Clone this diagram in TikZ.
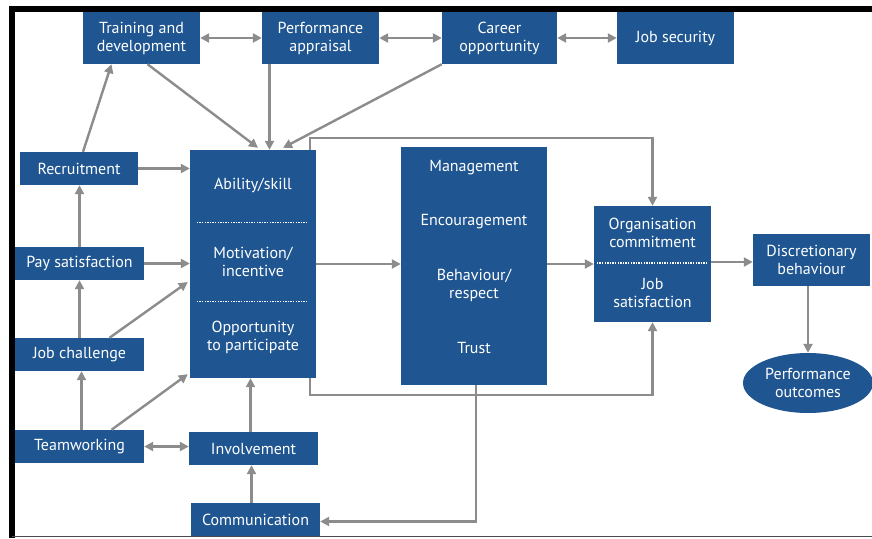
\documentclass[tikz,border=0pt]{standalone}
\usepackage{fontspec}
\setmainfont{PT Sans}
\usetikzlibrary{arrows.meta,calc,shapes.geometric}
\definecolor{boxblue}{RGB}{31,85,145}
\definecolor{arrgray}{RGB}{140,140,140}
\tikzset{
  box/.style={fill=boxblue,draw=none,text=white,align=center,inner sep=0pt,
    font=\fontsize{16}{18}\selectfont},
  txt/.style={text=white,align=center,inner sep=0pt,font=\fontsize{16}{18}\selectfont},
  arr/.style={draw=arrgray,line width=2.4pt,-{Triangle[length=9pt,width=9pt]}},
  darr/.style={draw=arrgray,line width=2.4pt,{Triangle[length=9pt,width=9pt]}-{Triangle[length=9pt,width=9pt]}},
  dots/.style={draw=white,line width=1.3pt,dash pattern=on 1.3pt off 1.3pt}
}
\begin{document}
\begin{tikzpicture}[x=1pt,y=-1pt]
\useasboundingbox (0,0) rectangle (872,538);
\fill[white] (0,0) rectangle (872,538);
% top row
\node[box,minimum width=117pt,minimum height=52pt] (train) at (141.5,38) {Training and\\development};
\node[box,minimum width=117pt,minimum height=52pt] (perf) at (320.5,38) {Performance\\appraisal};
\node[box,minimum width=115pt,minimum height=52pt] (career) at (499.5,38) {Career\\opportunity};
\node[box,minimum width=117pt,minimum height=52pt] (jobsec) at (675.5,38) {Job security};
% left column
\node[box,minimum width=118pt,minimum height=33pt] (recruit) at (79,168.5) {Recruitment};
\node[box,minimum width=129pt,minimum height=33pt] (pay) at (79.5,263.5) {Pay satisfaction};
\node[box,minimum width=129pt,minimum height=33pt] (challenge) at (79.5,354.5) {Job challenge};
\node[box,minimum width=129pt,minimum height=33pt] (team) at (79.5,446.5) {Teamworking};
\node[box,minimum width=129pt,minimum height=33pt] (involve) at (253.5,448.5) {Involvement};
\node[box,minimum width=129pt,minimum height=33pt] (comm) at (255.5,519.5) {Communication};
% ability box
\node[box,minimum width=126pt,minimum height=228pt] (ability) at (253,264) {};
\node[txt] (abl) at (253,185) {Ability/skill};
\node[txt] (mot) at (253,262) {Motivation/\\incentive};
\node[txt] (opp) at (253,337) {Opportunity\\to participate};
\draw[dots] ($(ability.north west)+(7,73)$) -- ($(ability.north east)+(-8,73)$);
\draw[dots] ($(ability.north west)+(7,152)$) -- ($(ability.north east)+(-8,152)$);
% management box
\node[box,minimum width=146pt,minimum height=238pt] (mgmt) at (474,266) {};
\node[txt] (m1) at (474,168) {Management};
\node[txt] (m2) at (474,222) {Encouragement};
\node[txt] (m3) at (474,285) {Behaviour/\\respect};
\node[txt] (m4) at (474,348) {Trust};
% organisation box
\node[box,minimum width=117pt,minimum height=116pt] (org) at (652.5,264) {};
\node[txt] (o1) at (652.5,233) {Organisation\\commitment};
\node[txt] (o2) at (652.5,293) {Job\\satisfaction};
\draw[dots] ($(org.west)+(3,-1)$) -- ($(org.east)+(-3,-1)$);
% right
\node[box,minimum width=117pt,minimum height=52pt] (disc) at (811.5,260) {Discretionary\\behaviour};
\node[box,ellipse,minimum width=130pt,minimum height=60pt] (out) at (808,383) {Performance\\outcomes};
% helper coordinates
\coordinate (pfs) at ($(perf.south)+(-51,0)$);
\coordinate (tms) at ($(team.north)+(2,0)$);
\coordinate (ivn) at ($(involve.north)+(-3,0)$);
\coordinate (cmn) at ($(comm.north)+(-4,0)$);
\coordinate (mge) at ($(mgmt.east)+(0,-2)$);
\coordinate (oge) at ($(org.east)+(0,-2)$);
% connectors top row
\draw[darr] (train.east) -- (perf.west);
\draw[darr] (perf.east) -- (career.west);
\draw[darr] (career.east) -- (jobsec.west);
\draw[arr] ($(train.south)+(6,0)$) -- ($(ability.north)+(5,-2)$);
\draw[arr] (pfs) -- (pfs |- ability.north);
\draw[arr] (career.south west) -- ($(ability.north)+(30,-2)$);
% left column connectors
\draw[arr] ($(recruit.north)+(4,0)$) -- ($(train.south)+(-30,0)$);
\draw[arr] (recruit.east) -- (recruit.east -| ability.west);
\draw[arr] (pay.north) -- (pay.north |- recruit.south);
\draw[arr] (pay.east) -- (pay.east -| ability.west);
\draw[arr] (challenge.north) -- (challenge.north |- pay.south);
\draw[arr] ($(challenge.north)+(30,0)$) -- ($(ability.west)+(-2,18)$);
\draw[arr] (tms) -- (tms |- challenge.south);
\draw[arr] ($(team.north)+(32,0)$) -- ($(ability.south west)+(-2,-4)$);
\draw[darr] (team.east) -- (team.east -| involve.west);
\draw[arr] (ivn) -- (ivn |- ability.south);
\draw[arr] (cmn) -- (cmn |- involve.south);
\draw[arr] ($(mgmt.south)+(2,0)$) |- ($(comm.east)+(0,2)$);
% main flow
\draw[arr] (ability.east) -- (ability.east -| mgmt.west);
\draw[arr] (mge) -- (mge -| org.west);
\draw[arr] (oge) -- (oge -| disc.west);
\draw[arr] (out.north |- disc.south) -- (out.north);
\draw[arr] ($(ability.north east)+(-6,0)$) -- ++(0,-12) -| (org.north);
\draw[arr] ($(ability.south east)+(-6,0)$) -- ++(0,17) -| (org.south);
% frame
\draw[black,line width=6pt] (12,538) -- (12,9) -- (872,9);
\draw[black!70,line width=1.5pt] (12,536.5) -- (872,536.5);
\end{tikzpicture}
\end{document}
